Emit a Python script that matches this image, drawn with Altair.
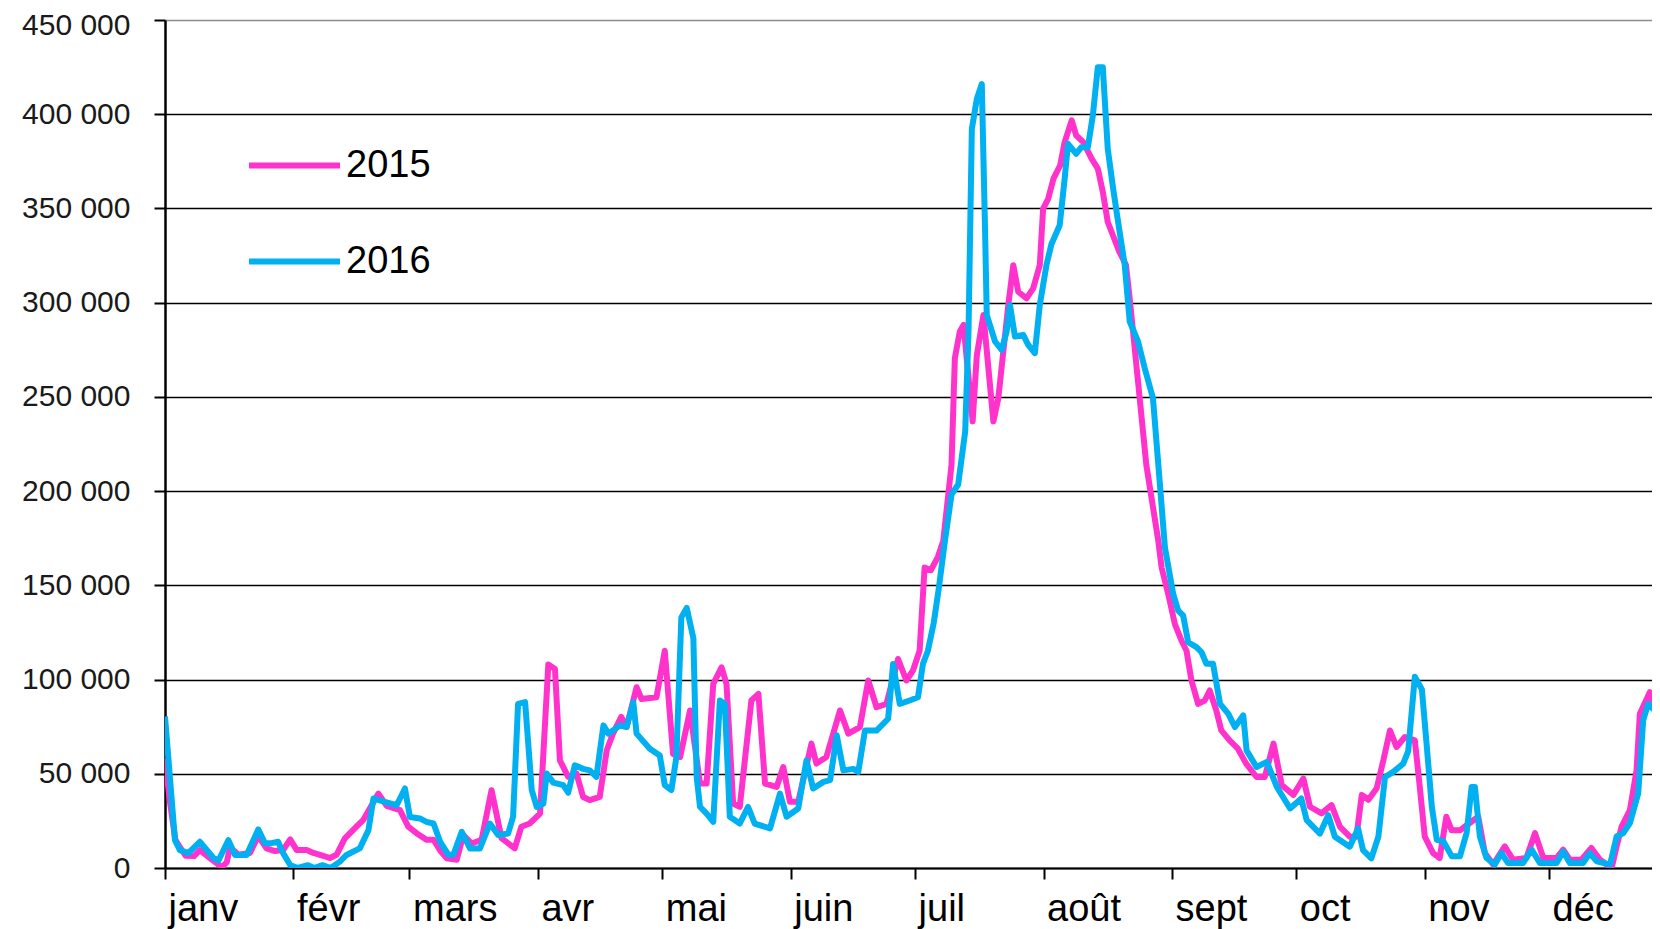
import altair as alt
import pandas as pd

MONTHS = ["janv", "févr", "mars", "avr", "mai", "juin", "juil", "août", "sept", "oct", "nov", "déc"]
MONTH_START = [0, 31, 59, 90, 120, 151, 181, 212, 243, 273, 304, 334]
Y_TICKS = list(range(0, 450001, 50000))
SERIES = ["2015", "2016"]
COLORS = ["#FF33CC", "#00B0F0"]

DAYS_2015 = [0, 1.2, 2.5, 3.6, 5, 7, 8.4, 11, 13.7, 14.9, 15.7, 17.7, 20.5, 22.5, 24.5, 26.5, 28.5, 30.2,
             31.8, 34.2, 35.8, 37.4, 39.8, 41.4, 43.4, 46.2, 47.8, 51.5, 53.5, 56.7, 58.7, 60.7, 63.1,
             64.8, 66.5, 68, 70.4, 72, 74, 76.4, 78.8, 81.2, 84.4, 86, 88, 90.5, 92.5, 94.1, 95.3, 97.3,
             99.3, 100.9, 102.5, 104.9, 106.6, 108.1, 110.1, 111.4, 113.8, 115, 118.6, 120.6, 122.6,
             124.3, 126.7, 129.1, 130.7, 132.3, 134.3, 135.5, 137.1, 138.7, 141.5, 143.2, 144.8, 147.6,
             149.2, 150.8, 152.8, 156, 157.2, 159.6, 162.9, 164.9, 167.7, 169.7, 171.7, 174.1, 176.9,
             178.9, 180.5, 182.1, 183.3, 184.8, 186.5, 187.8, 189.8, 190.6, 191.8, 192.7, 194.9, 195.9,
             197.5, 199.9, 201.1, 203.5, 204.7, 205.9, 207.9, 209.5, 211.1, 211.9, 213.1, 214.4, 216,
             217.1, 218.8, 219.9, 221.6, 223.6, 225.1, 226.3, 227.5, 230.3, 231.9, 232.8, 233.6, 235.2,
             236.8, 239.7, 240.5, 242.1, 243.7, 245.3, 246.5, 247.7, 249.3, 250.9, 252.1, 253.7, 254.9,
             256.9, 258.9, 260.9, 263.4, 265.4, 267.5, 269.5, 272.3, 274.7, 276.3, 279.1, 281.5, 283.5,
             285.9, 287.5, 288.8, 290.4, 292.4, 294, 295.6, 297.2, 299.2, 301.6, 302.8, 304, 306, 307.6,
             309.2, 310.5, 312.5, 314.1, 316.9, 318.5, 320.5, 323.3, 325.3, 328.5, 330.6, 332.6, 335.8,
             337.4, 339, 341.8, 344.2, 346.3, 349.1, 350.3, 351.5, 353.5, 355.1, 355.9, 358.3, 360.3]
VALS_2015 = [58000, 35000, 15000, 11000, 6500, 6300, 9500, 5000, 500, 3000, 11000, 7000, 8000, 17000, 10400,
             9000, 9500, 15200, 9500, 9500, 8000, 7000, 5300, 7000, 15700, 21900, 25400, 39500, 33000,
             30700, 22000, 18500, 15000, 15000, 9000, 5100, 4400, 17500, 13000, 15000, 41300, 15800,
             10400, 21900, 23600, 28900, 108000, 105600, 57100, 48400, 50100, 37700, 36000, 37700, 62500,
             71300, 80200, 74800, 95900, 89700, 90600, 115300, 60500, 58900, 83600, 44800, 44800, 97700,
             106500, 97700, 34200, 32400, 88900, 92400, 44800, 43000, 53600, 35100, 35100, 66000, 55400,
             58900, 83600, 71300, 74800, 99500, 85300, 87100, 110900, 99500, 104800, 115300, 159400,
             158000, 165000, 173500, 214000, 270500, 284700, 288200, 237000, 272000, 293500, 237000,
             249400, 298800, 319900, 305800, 302300, 307600, 319900, 349900, 355000, 365800, 372800,
             385200, 396700, 388700, 385200, 376400, 371100, 358800, 342800, 327000, 320000, 302000,
             284700, 249400, 214000, 173500, 159400, 145300, 129400, 120600, 115300, 99500, 87100, 88900,
             94200, 83600, 73000, 67700, 63300, 55400, 48300, 48300, 66000, 44000, 38800, 47500, 32500,
             29000, 33400, 22000, 16600, 16600, 38800, 36200, 42300, 57100, 73000, 64200, 69500, 67700,
             43000, 16600, 7900, 5300, 27200, 20000, 20000, 22700, 27200, 7900, 1800, 11500, 4400, 5300,
             18500, 5300, 5300, 9700, 4400, 4400, 10600, 4400, 0, 11500, 22000, 30700, 51800, 81800,
             93300, 78300]

DAYS_2016 = [0, 2.4, 3.6, 5.6, 8.4, 11.7, 12.9, 15.3, 16.9, 19.7, 22.5, 24.1, 25.7, 27.3, 28.5, 30.2, 32,
             34.5, 36, 38, 40, 42.2, 43.8, 47, 49.1, 50.3, 53, 55.9, 57.9, 59.1, 61.5, 63.1, 64.8, 66.4,
             68.4, 69.6, 71.6, 73.6, 76, 78.4, 80.4, 82.8, 84, 85.2, 86.9, 88.5, 89.7, 91.3, 92.1, 93.7,
             96.1, 97.3, 98.9, 100.9, 102.5, 104.1, 105.8, 107, 109.8, 111.4, 113, 113.8, 117, 119.4,
             120.6, 122.2, 123.4, 124.6, 125.9, 127.5, 128.3, 129.1, 130.7, 132.3, 133.9, 135.1, 136.3,
             138.7, 140.7, 142.3, 146, 148.4, 150, 152.8, 154.8, 156.4, 158.9, 160.5, 162.1, 163.7,
             166.1, 167.3, 168.9, 171.7, 174.5, 175.7, 177.3, 179.7, 181.7, 182.9, 184.1, 185.5, 186.7,
             188.2, 189.8, 191.4, 193.1, 193.9, 194.7, 195.9, 197.1, 197.9, 198.3, 200.3, 201.9, 203.1,
             203.9, 205.1, 207.1, 208.3, 209.9, 211.1, 212.7, 213.9, 215.9, 217.1, 217.9, 219.9, 221.1,
             222.7, 223.9, 225.1, 226.3, 227.5, 228.8, 230, 231.6, 232.8, 234.8, 236.4, 238.4, 239.7,
             241.3, 243.3, 244.5, 245.7, 246.9, 248.9, 250.1, 251.3, 252.9, 254.6, 256.6, 258.2, 260.2,
             261, 263.4, 265.9, 268.3, 271.5, 274.2, 275.5, 278.7, 280.7, 282.3, 285.9, 287.9, 289.1,
             291.1, 292.8, 294.4, 296.4, 298.8, 300, 301.6, 303.3, 304.5, 305.7, 306.9, 308.5, 310.5,
             312.5, 314.1, 315.3, 316.1, 317.3, 318.9, 320.9, 322.5, 324.1, 327.7, 329.8, 331.8, 335.8,
             337.4, 339, 342.2, 343.8, 345.5, 348.7, 350.3, 351.9, 353.5, 355.5, 356.7, 357.9, 359.1,
             360.7]
VALS_2016 = [80400, 14800, 9500, 7900, 13900, 5300, 4000, 14800, 6900, 6900, 20500, 13200, 13200, 13900, 7900,
             1600, 0, 1500, 0, 1500, 0, 3400, 6900, 10400, 20100, 36900, 35100, 33300, 42200, 27100,
             26300, 24500, 23600, 13900, 7000, 7000, 19200, 10400, 10400, 23600, 17500, 18300, 27200,
             87100, 88000, 41300, 32400, 34200, 50100, 45300, 44000, 40000, 54500, 52600, 51800, 48400,
             75700, 71300, 75700, 74800, 88000, 71300, 63300, 59700, 44000, 41400, 58800, 133000, 138000,
             122000, 48300, 32500, 28900, 24500, 88900, 87100, 27200, 23600, 32400, 23600, 21000, 39500,
             27200, 31600, 57100, 42200, 45700, 46600, 70400, 51800, 52600, 51000, 72900, 72900, 79200,
             108300, 87100, 88900, 90600, 108300, 115300, 130000, 148000, 173500, 198200, 203500,
             231700, 284700, 392200, 408100, 416000, 337600, 293500, 279400, 274900, 284700, 298800,
             282000, 282900, 277600, 273200, 298800, 319900, 331000, 341100, 365800, 384300, 379000,
             382500, 382500, 399300, 424900, 424900, 381600, 360500, 342800, 319900, 290000, 279400,
             265300, 249400, 214100, 170000, 145300, 136600, 133900, 119800, 117200, 114600, 108400,
             108400, 87100, 81800, 74800, 81000, 62400, 53600, 56300, 43000, 31600, 36900, 25400, 18300,
             28000, 16600, 11300, 21000, 9500, 5100, 16600, 48300, 51000, 55400, 62000, 101500, 94800,
             64200, 32500, 15000, 14100, 6300, 6300, 18600, 43000, 43000, 16600, 5300, 1800, 7900, 2600,
             2600, 9700, 2600, 2600, 8800, 2600, 2600, 7900, 3500, 1800, 16700, 18500, 23800, 39500,
             78300, 87100, 84500, 85300]

df15 = pd.DataFrame({"day": DAYS_2015, "value": VALS_2015, "series": SERIES[0]})
df16 = pd.DataFrame({"day": DAYS_2016, "value": VALS_2016, "series": SERIES[1]})

PX_PER_DAY = 4.144
PLOT_W = 1495
PLOT_H = 848
X_MAX = PLOT_W / PX_PER_DAY

FONT = "Liberation Sans"
month_arr = "[" + ",".join("'%s'" % m for m in MONTHS) + "]"
start_arr = "[" + ",".join(str(d) for d in MONTH_START) + "]"
month_expr = "%s[indexof(%s, datum.value)]" % (month_arr, start_arr)

x_enc = alt.X(
    "day:Q",
    scale=alt.Scale(domain=[0, X_MAX], nice=False, zero=False),
    axis=alt.Axis(
        values=MONTH_START, labelExpr=month_expr, title=None, grid=False,
        labelAlign="left", labelOffset=3, labelBaseline="alphabetic", labelPadding=41,
        labelFontSize=38, labelFont=FONT, labelColor="#000000",
        labelOverlap=False, labelFlush=False,
        tickSize=11, tickColor="#000000", tickWidth=2,
        domainColor="#000000", domainWidth=2,
    ),
)
y_enc = alt.Y(
    "value:Q",
    scale=alt.Scale(domain=[0, 450000], nice=False),
    axis=alt.Axis(
        values=Y_TICKS, labelExpr="replace(format(datum.value, ','), ',', ' ')", title=None,
        labelFontSize=30, labelFont=FONT, labelColor="#1a1a1a", labelPadding=24,
        labelOffset={"condition": {"test": "datum.value === 450000", "value": 5}, "value": 0},
        tickSize=11, tickColor="#000000", tickWidth=2,
        domainColor="#000000", domainWidth=2.5,
        grid=True, gridWidth=1.6,
        gridColor={"condition": {"test": "datum.value === 450000", "value": "#8c8c8c"}, "value": "#000000"},
    ),
)
color_enc = alt.Color(
    "series:N",
    scale=alt.Scale(domain=SERIES, range=COLORS),
    legend=alt.Legend(
        title=None, orient="none", legendX=81, legendY=97, direction="vertical",
        symbolType="stroke", symbolSize=8281, symbolStrokeWidth=6,
        labelFontSize=38, labelFont=FONT, labelColor="#000000", labelOffset=3,
        rowPadding=28, padding=0,
    ),
)

def series_line(df):
    return alt.Chart(df).mark_line(strokeWidth=6, clip=True, strokeJoin="round").encode(
        x=x_enc, y=y_enc, color=color_enc, order="day:Q"
    )

chart = alt.layer(series_line(df15), series_line(df16)).properties(
    width=PLOT_W,
    height=PLOT_H,
    padding={"left": 157, "top": 12, "right": -8, "bottom": 61},
    autosize=alt.AutoSizeParams(type="none"),
    background="#ffffff",
).configure_view(stroke=None)

chart.save("out.html", embed_options={"renderer": "svg", "actions": False})
